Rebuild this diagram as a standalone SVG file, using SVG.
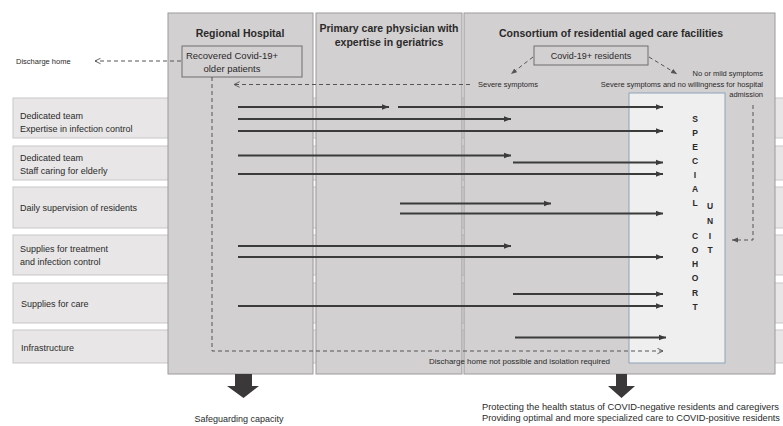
<svg xmlns="http://www.w3.org/2000/svg" width="783" height="426" viewBox="0 0 783 426">
<style>
  .row{fill:#e8e6e7;stroke:#c9c7c8;stroke-width:1}
  .col{fill:#d3d0d1;stroke:#9c9a9b;stroke-width:1}
  .box{fill:#d3d0d1;stroke:#6f6d6e;stroke-width:1}
  .unit{fill:#f0eff0;stroke:#8ea3ba;stroke-width:1}
  .t{font-family:"Liberation Sans",Arial,sans-serif;fill:#2a2a2a}
  .rl{font-size:9px}
  .hd{font-size:10.5px;font-weight:bold}
  .sm{font-size:7.5px}
  .lt{font-size:8.5px;font-weight:bold;text-anchor:middle}
  .ar{stroke:#3b3b3b;stroke-width:1.8;fill:none;marker-end:url(#af)}
  .ds{stroke:#555;stroke-width:1;stroke-dasharray:4 3;fill:none}
  .big{fill:#3a3838}
</style>
<defs>
  <marker id="af" viewBox="0 0 10 10" refX="10" refY="5" markerWidth="4" markerHeight="4" orient="auto" markerUnits="strokeWidth">
    <path d="M0,1 L10,5 L0,9 z" fill="#3b3b3b"/>
  </marker>
  <marker id="ao" viewBox="0 0 10 10" refX="9" refY="5" markerWidth="7" markerHeight="7" orient="auto" markerUnits="userSpaceOnUse">
    <path d="M1,1 L9,5 L1,9" fill="none" stroke="#555" stroke-width="1.3"/>
  </marker>
  <marker id="as" viewBox="0 0 10 10" refX="10" refY="5" markerWidth="6" markerHeight="6" orient="auto" markerUnits="userSpaceOnUse">
    <path d="M0,1 L10,5 L0,9 z" fill="#555"/>
  </marker>
</defs>
<rect width="783" height="426" fill="#ffffff"/>

<g id="rows">
  <g id="row-infection"><rect class="row" x="13" y="98" width="790" height="40"/>
    <text class="t rl" x="20" y="119">Dedicated team</text>
    <text class="t rl" x="20" y="132">Expertise in infection control</text></g>
  <g id="row-elderly"><rect class="row" x="13" y="146" width="790" height="34"/>
    <text class="t rl" x="20" y="161">Dedicated team</text>
    <text class="t rl" x="20" y="174">Staff caring for elderly</text></g>
  <g id="row-supervision"><rect class="row" x="13" y="187" width="790" height="41"/>
    <text class="t rl" x="20" y="211">Daily supervision of residents</text></g>
  <g id="row-supplies-treat"><rect class="row" x="13" y="235" width="790" height="40"/>
    <text class="t rl" x="20" y="252">Supplies for treatment</text>
    <text class="t rl" x="20" y="265">and infection control</text></g>
  <g id="row-supplies-care"><rect class="row" x="13" y="283" width="790" height="40"/>
    <text class="t rl" x="21" y="307">Supplies for care</text></g>
  <g id="row-infra"><rect class="row" x="13" y="330" width="790" height="33"/>
    <text class="t rl" x="21" y="351">Infrastructure</text></g>
</g>

<g id="col-hospital"><rect class="col" x="168" y="13" width="145" height="361"/>
  <text class="t hd" x="240" y="37" text-anchor="middle">Regional Hospital</text></g>
<g id="col-pcp"><rect class="col" x="316" y="13" width="146" height="361"/>
  <text class="t hd" x="389" y="32" text-anchor="middle" textLength="139" lengthAdjust="spacingAndGlyphs">Primary care physician with</text>
  <text class="t hd" x="389" y="46" text-anchor="middle">expertise in geriatrics</text></g>
<g id="col-consortium"><rect class="col" x="464" y="13" width="311" height="361"/>
  <text class="t hd" x="611" y="37" text-anchor="middle" textLength="224" lengthAdjust="spacingAndGlyphs">Consortium of residential aged care facilities</text></g>

<g id="recovered"><rect class="box" x="182" y="46" width="120" height="31"/>
  <text class="t" font-size="9.5" x="232" y="59" text-anchor="middle">Recovered Covid-19+</text>
  <text class="t" font-size="9.5" x="232" y="72" text-anchor="middle">older patients</text></g>

<g id="covid-residents"><rect class="box" x="534" y="46" width="114" height="19"/>
  <text class="t" font-size="9" x="591" y="59" text-anchor="middle">Covid-19+ residents</text></g>

<g id="special-unit"><rect class="unit" x="629" y="93" width="96" height="270"/>
  <text class="t lt" x="695" y="122">S</text>
  <text class="t lt" x="695" y="136">P</text>
  <text class="t lt" x="695" y="150">E</text>
  <text class="t lt" x="695" y="164">C</text>
  <text class="t lt" x="695" y="178">I</text>
  <text class="t lt" x="695" y="192">A</text>
  <text class="t lt" x="695" y="206">L</text>
  <text class="t lt" x="710" y="209">U</text>
  <text class="t lt" x="710" y="224">N</text>
  <text class="t lt" x="710" y="239">I</text>
  <text class="t lt" x="710" y="253">T</text>
  <text class="t lt" x="695" y="239">C</text>
  <text class="t lt" x="695" y="253">O</text>
  <text class="t lt" x="695" y="267">H</text>
  <text class="t lt" x="695" y="281">O</text>
  <text class="t lt" x="695" y="296">R</text>
  <text class="t lt" x="695" y="310">T</text></g>

<g id="labels">
  <text class="t sm" x="16" y="64">Discharge home</text>
  <text class="t sm" x="478" y="87">Severe symptoms</text>
  <text class="t sm" x="763" y="76" text-anchor="end">No or mild symptoms</text>
  <text class="t sm" x="763" y="87" text-anchor="end">Severe symptoms and no willingness for hospital</text>
  <text class="t sm" x="763" y="97" text-anchor="end">admission</text>
  <text class="t sm" x="429" y="364" textLength="181" lengthAdjust="spacingAndGlyphs">Discharge  home not possible and isolation required</text>
</g>

<g id="connectors">
  <line class="ar" x1="238" y1="107" x2="389" y2="107"/>
  <line class="ar" x1="398" y1="107" x2="663" y2="107"/>
  <line class="ar" x1="238" y1="119" x2="511" y2="119"/>
  <line class="ar" x1="238" y1="131" x2="663" y2="131"/>
  <line class="ar" x1="238" y1="155.5" x2="511" y2="155.5"/>
  <line class="ar" x1="513" y1="162.5" x2="663" y2="162.5"/>
  <line class="ar" x1="238" y1="174" x2="663" y2="174"/>
  <line class="ar" x1="400" y1="203.5" x2="551" y2="203.5"/>
  <line class="ar" x1="400" y1="213.5" x2="663" y2="213.5"/>
  <line class="ar" x1="238" y1="246" x2="511" y2="246"/>
  <line class="ar" x1="238" y1="257" x2="663" y2="257"/>
  <line class="ar" x1="513" y1="294" x2="663" y2="294"/>
  <line class="ar" x1="238" y1="306" x2="663" y2="306"/>
  <line class="ar" x1="515" y1="337.5" x2="666" y2="337.5"/>
  <path class="ds" d="M181,61 H95" marker-end="url(#ao)"/>
  <path class="ds" d="M470,84.5 H234" marker-end="url(#ao)"/>
  <path class="ds" d="M212,77 V351 H663" marker-end="url(#ao)"/>
  <path class="ds" d="M533,57 L511,74" marker-end="url(#as)"/>
  <path class="ds" d="M649,57 L677,74" marker-end="url(#as)"/>
  <path class="ds" d="M753,105 V240 H732" marker-end="url(#as)"/>
</g>

<g id="outcomes">
  <path class="big" d="M235,374 H252 V386 H259 L243.5,398 L227,386 H235 Z"/>
  <path class="big" d="M616,374 H627 V386 H635 L621.5,398 L608,386 H616 Z"/>
  <text class="t" font-size="9" x="239" y="422" text-anchor="middle">Safeguarding capacity</text>
  <text class="t" font-size="9" x="482" y="410" textLength="297" lengthAdjust="spacingAndGlyphs">Protecting the health status of COVID-negative residents and caregivers</text>
  <text class="t" font-size="9" x="482" y="421" textLength="298" lengthAdjust="spacingAndGlyphs">Providing optimal and more specialized care to COVID-positive residents</text>
</g>
</svg>
